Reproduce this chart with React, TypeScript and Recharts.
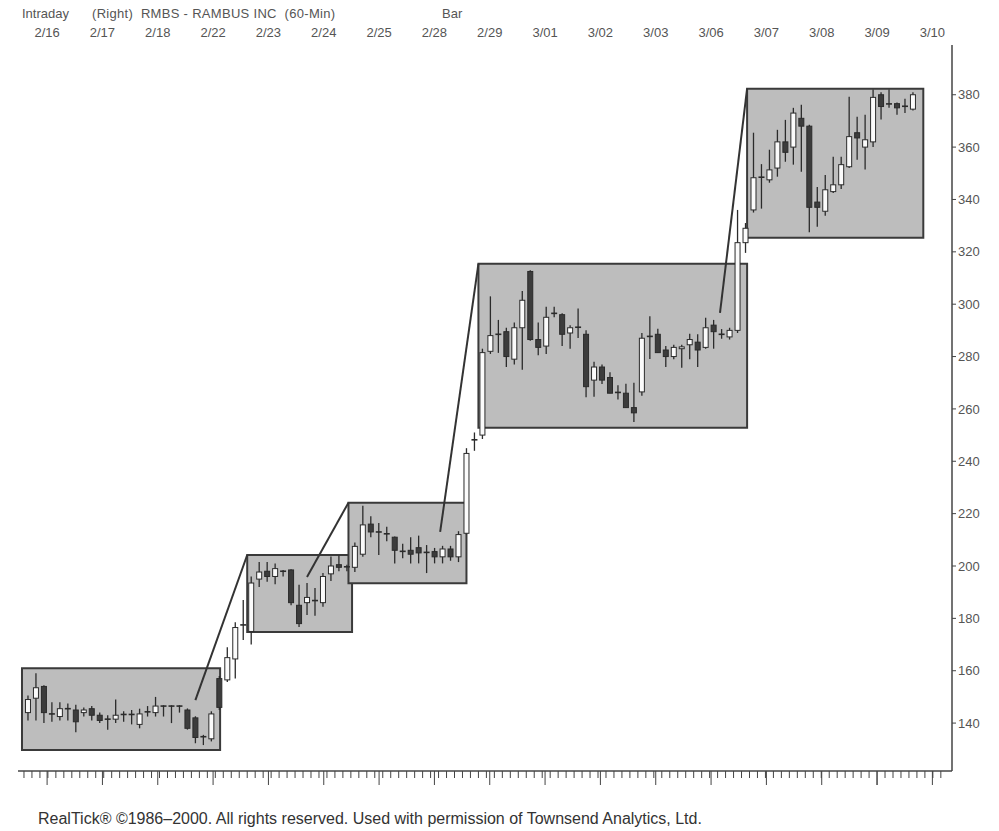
import { ComposedChart, Bar, XAxis, YAxis, ReferenceArea, ReferenceLine } from 'recharts'

// RMBS 60-min bars, 2/16 - 3/09 (7 bars a day)
const DATES = ['2/16', '2/17', '2/18', '2/22', '2/23', '2/24', '2/25', '2/28', '2/29', '3/01', '3/02', '3/03', '3/06', '3/07', '3/08', '3/09', '3/10']

const OPEN = [
  144, 149.5, 154, 143.5, 142.5, 145, 145, 144, 145.5, 143, 141, 141.5, 143, 143,
  139.5, 144, 144, 146.3, 146.3, 146.3, 145, 142, 134.5, 134, 157, 156.5, 164.5, 177,
  175, 195, 198, 196, 198, 198.5, 185, 186, 186.4, 186, 197, 200.5, 199.3, 199.5,
  204.5, 216, 213, 212.3, 211, 205.2, 206, 207, 205.2, 205.5, 203.5, 206.5, 203.5, 212.5,
  247.8, 250, 282, 288, 289.5, 279, 291, 312.5, 286.5, 284, 296, 296, 289, 290.8,
  288.5, 271, 276, 272, 266, 266, 260.5, 266.5, 287.3, 288.5, 282.5, 280, 283, 284.5,
  285.5, 283.5, 292, 288.2, 287.5, 290, 323.5, 336, 348, 347.5, 352, 362, 360, 371,
  368, 339, 335.5, 343, 345.6, 352.5, 365.5, 360, 362, 380, 376, 376.6, 375.2, 374.5,
]
const HIGH = [
  150.5, 159, 154.5, 148, 148, 147.5, 147, 146, 146.5, 144, 143, 149, 144.5, 145,
  145.5, 146.5, 150, 146.8, 146.8, 146.8, 145.6, 142.6, 135.5, 144.5, 158, 169, 178.5, 187,
  196, 201.5, 201.5, 201, 198.5, 198.8, 192.8, 193.5, 191.6, 197.3, 203.6, 204, 200.5, 209,
  223, 219, 216.4, 215, 211.3, 208.5, 211, 211.6, 208, 206.9, 207.7, 207.7, 213.3, 245,
  251, 283, 303, 294, 291, 293, 305, 313, 293, 299, 299, 296.5, 292, 298.4,
  290, 278, 277, 274, 269, 269.6, 270, 289, 295.4, 290.6, 284, 284.5, 284.5, 288.7,
  288.5, 294.8, 294, 290.5, 291, 336, 331, 365.5, 353.5, 359, 366.6, 370.4, 375, 376.2,
  368.5, 344.8, 349.3, 356.3, 356.3, 379.2, 371.6, 372.4, 382, 381, 382, 377, 378.5, 381,
]
const LOW = [
  141, 141, 140, 140.5, 141, 141, 136.5, 142.5, 141, 140, 137.5, 140, 140.5, 139.5,
  138, 142.5, 142.5, 142.5, 140, 144, 137.5, 132.3, 131.6, 133, 145, 155.7, 157, 171.7,
  170, 192, 194, 193, 196, 185, 176.7, 181.3, 181, 184.4, 194.3, 198, 198, 197.7,
  203.5, 211, 204.2, 209.5, 201, 203, 201, 201, 197.3, 201, 201, 202, 201.5, 212,
  244, 248.5, 281, 281.4, 276, 277, 275, 286, 280.5, 281, 295, 284, 283, 287.1,
  264.5, 264.6, 269.5, 266, 263.6, 260.4, 255, 265, 279.1, 281.5, 276, 279, 275.7, 279,
  276, 283, 283, 286.8, 286.5, 289, 319.6, 335, 336.5, 346.4, 348.7, 354.4, 353.3, 350.6,
  327.5, 329.6, 333.8, 342.5, 344, 352, 355.2, 351.4, 360, 370.5, 375, 372.4, 373, 374,
]
const CLOSE = [
  149, 153.5, 144, 143, 145.5, 145.5, 140.5, 145, 143, 141, 141.5, 143, 143.3, 143.3,
  143.5, 144.3, 146.5, 146.5, 146.5, 146.5, 138, 134.5, 134.8, 143.5, 146, 165, 176.5, 177.5,
  193.5, 197.7, 196, 199, 197.7, 186, 178, 188, 186.8, 196, 200, 199.5, 199.7, 207.5,
  215.7, 213, 212.5, 212, 206, 205.6, 204.5, 205, 205, 203.5, 206.5, 203.5, 212, 243,
  248.2, 281.5, 288, 288.5, 280, 291, 301.5, 286.5, 283.5, 295, 296.5, 288.5, 291, 291.2,
  268.5, 276, 271, 266, 266.3, 260.5, 258.5, 287, 287.7, 281.5, 280, 283.5, 283.7, 286.5,
  282.5, 291, 289.5, 288.5, 290, 323.5, 329, 348.3, 348.5, 351.3, 362, 358, 373, 368,
  337, 337, 343.7, 345.6, 353.3, 364, 363.5, 362.8, 379, 375.5, 376.5, 375, 375.6, 380,
]

// consolidation boxes: bar index range and price range
const BOX_X1 = [-0.75, 27.5, 40.2, 56.5, 90.2]
const BOX_X2 = [24.1, 40.65, 55, 90.2, 112.3]
const BOX_LOW = [129.7, 174.8, 193.4, 252.8, 325.4]
const BOX_HIGH = [160.9, 204.2, 224.2, 315.4, 382.3]

// breakout lines: from a bar inside one box to the top-left corner of the next
const LINE_FROM_X = [21, 35, 51.7, 86.8]
const LINE_FROM_Y = [148.8, 195.8, 213, 296.7]

const PRICE_TICKS = [140, 160, 180, 200, 220, 240, 260, 280, 300, 320, 340, 360, 380]

const data = OPEN.map((o, i) => ({ i, open: o, high: HIGH[i], low: LOW[i], close: CLOSE[i] }))
const dateTicks = DATES.map((_, d) => 2.4 + d * 6.94)
const barTicks = Array.from({ length: 116 }, (_, k) => k - 0.5)

const INK = '#2b2b2b'
const FONT = '"Liberation Sans Narrow", "Liberation Sans", Arial, sans-serif'

function Candle(props: any) {
  const { x, y, width, height, payload } = props
  if (payload == null || width == null) return null
  const top = Math.min(y, y + height)
  const h = Math.abs(height)
  const span = payload.high - payload.low
  const k = span > 0 ? h / span : 0
  const py = (v: number) => top + (payload.high - v) * k
  const cx = x + width / 2
  const up = payload.close >= payload.open
  const bt = py(Math.max(payload.open, payload.close))
  const bb = py(Math.min(payload.open, payload.close))
  const bw = 5
  return (
    <g>
      <line x1={cx} x2={cx} y1={top} y2={top + h} stroke={INK} strokeWidth={1.3} />
      {bb - bt < 1.5 ? (
        <line x1={cx - 3} x2={cx + 3} y1={bt} y2={bt} stroke={INK} strokeWidth={1.6} />
      ) : (
        <rect x={cx - bw / 2} y={bt} width={bw} height={bb - bt} fill={up ? '#fbfbfb' : '#3c3c3c'} stroke={INK} strokeWidth={1} />
      )}
    </g>
  )
}

function DateTick(props: any) {
  const { x, payload } = props
  const d = dateTicks.findIndex((t) => Math.abs(t - payload.value) < 0.01)
  return (
    <text x={x} y={37} textAnchor="middle" fontSize={13} fill="#555" fontFamily={FONT}>
      {DATES[d]}
    </text>
  )
}

function RulerTick(props: any) {
  const { x, payload } = props
  const long = dateTicks.some((t) => Math.abs(t - payload.value) < 0.01)
  return <line x1={x} x2={x} y1={771} y2={long ? 785 : 778} stroke="#444" strokeWidth={1} />
}

export default function App() {
  return (
    <div style={{ position: 'absolute', left: 0, top: 0, width: 999, height: 831, background: '#fff', fontFamily: FONT }}>
      <div style={{ position: 'absolute', top: 6, left: 22, fontSize: 13, color: '#555', whiteSpace: 'pre' }}>Intraday</div>
      <div style={{ position: 'absolute', top: 6, left: 92, fontSize: 13, color: '#555', whiteSpace: 'pre', letterSpacing: 0.3 }}>
        (Right)  RMBS - RAMBUS INC  (60-Min)
      </div>
      <div style={{ position: 'absolute', top: 6, left: 442, fontSize: 13, color: '#555' }}>Bar</div>

      <ComposedChart width={999} height={831} data={data} margin={{ top: 0, right: 0, bottom: 0, left: 18 }}>
        <XAxis
          xAxisId="top"
          orientation="top"
          dataKey="i"
          type="number"
          domain={[-1.25, 115.9]}
          ticks={dateTicks}
          tick={<DateTick />}
          interval={0}
          axisLine={false}
          tickLine={false}
          height={45}
          allowDataOverflow
        />
        <XAxis
          dataKey="i"
          type="number"
          domain={[-1.25, 115.9]}
          ticks={[...barTicks, ...dateTicks]}
          tick={<RulerTick />}
          tickLine={false}
          axisLine={{ stroke: '#444', strokeWidth: 1.5 }}
          height={60}
          interval={0}
          allowDataOverflow
        />
        <YAxis
          orientation="right"
          domain={[121.7, 399]}
          ticks={PRICE_TICKS}
          width={47}
          tickSize={4}
          interval={0}
          tickLine={{ stroke: '#444' }}
          axisLine={{ stroke: '#444', strokeWidth: 1.5 }}
          tick={{ fill: '#555', fontSize: 13, fontFamily: FONT }}
          allowDataOverflow
        />
        {BOX_X1.map((x1, k) => (
          <ReferenceArea
            key={'box' + k}
            x1={x1}
            x2={BOX_X2[k]}
            y1={BOX_LOW[k]}
            y2={BOX_HIGH[k]}
            fill="#bdbdbd"
            fillOpacity={1}
            stroke="#3a3a3a"
            strokeWidth={2}
            ifOverflow="visible"
          />
        ))}
        {LINE_FROM_X.map((x, k) => (
          <ReferenceLine
            key={'ln' + k}
            segment={[
              { x, y: LINE_FROM_Y[k] },
              { x: BOX_X1[k + 1], y: BOX_HIGH[k + 1] },
            ]}
            stroke="#333"
            strokeWidth={2}
            ifOverflow="visible"
          />
        ))}
        <Bar dataKey={(d: any) => [d.low, d.high]} barSize={6} shape={<Candle />} isAnimationActive={false} />
      </ComposedChart>

      <div style={{ position: 'absolute', top: 810, left: 38, fontSize: 16, color: '#333', whiteSpace: 'nowrap' }}>
        RealTick® ©1986–2000. All rights reserved. Used with permission of Townsend Analytics, Ltd.
      </div>
    </div>
  )
}
